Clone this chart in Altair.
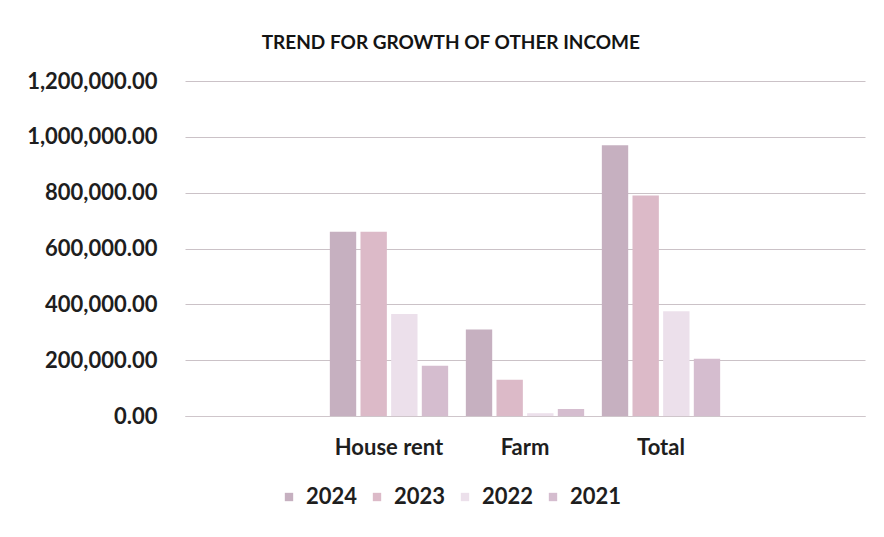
import altair as alt
import pandas as pd

categories = ["House rent", "Farm", "Total"]
domain_cats = ["_pad_left", "House rent", "Farm", "Total", "_pad_right"]
years = ["2024", "2023", "2022", "2021"]
values_2024 = [660000, 310000, 970000]
values_2023 = [660000, 130000, 790000]
values_2022 = [365000, 10000, 375000]
values_2021 = [180000, 25000, 205000]
colors = ["#c6b0c0", "#dcbac8", "#ece0eb", "#d5bdcf"]
y_ticks = [0, 200000, 400000, 600000, 800000, 1000000, 1200000]

series = {"2024": values_2024, "2023": values_2023, "2022": values_2022, "2021": values_2021}
rows = []
for yr in years:
    for cat, v in zip(categories, series[yr]):
        rows.append({"Category": cat, "Year": yr, "Value": v})
df = pd.DataFrame(rows)

FONT = "Lato"
TXT = "#1e1e1e"

chart = alt.Chart(df).mark_bar().encode(
    x=alt.X(
        "Category:N",
        scale=alt.Scale(domain=domain_cats, paddingInner=0.13, paddingOuter=0.065),
        axis=alt.Axis(
            title=None, labelAngle=0, ticks=False, domain=True, domainColor="#cfc6cb",
            labelPadding=21, labelFontSize=22, labelFont=FONT, labelFontWeight="bold",
            labelColor=TXT,
            labelExpr="indexof(['House rent','Farm','Total'], datum.value) >= 0 ? datum.value : ''",
        ),
    ),
    xOffset=alt.XOffset("Year:N", sort=years, scale=alt.Scale(paddingInner=0.14, paddingOuter=0.0)),
    y=alt.Y(
        "Value:Q",
        scale=alt.Scale(domain=[0, 1200000]),
        axis=alt.Axis(
            title=None, values=y_ticks, format=",.2f", ticks=False, domain=False,
            labelPadding=28, labelFontSize=22, labelFont=FONT, labelFontWeight="bold",
            labelColor=TXT, gridColor="#cbc2c7", gridWidth=1,
        ),
    ),
    color=alt.Color(
        "Year:N",
        sort=years,
        scale=alt.Scale(domain=years, range=colors),
        legend=alt.Legend(
            title=None, orient="none", direction="horizontal", legendX=93, legendY=405,
            symbolType="square", symbolSize=70, symbolStrokeWidth=0,
            labelFontSize=22, labelFont=FONT, labelFontWeight="bold", labelColor=TXT,
            columnPadding=8, labelOffset=6,
        ),
    ),
).properties(
    width=680,
    height=335,
    background="white",
    padding={"left": 26, "top": 34, "right": 19, "bottom": 5},
    title=alt.TitleParams(
        "TREND FOR GROWTH OF OTHER INCOME", anchor="middle", frame="bounds",
        fontSize=19, font=FONT, fontWeight="bold", color="#141414", offset=17, dx=5,
    ),
).configure_view(stroke="transparent", strokeWidth=0)

chart.save("out.html", embed_options={"renderer": "svg", "actions": False})
